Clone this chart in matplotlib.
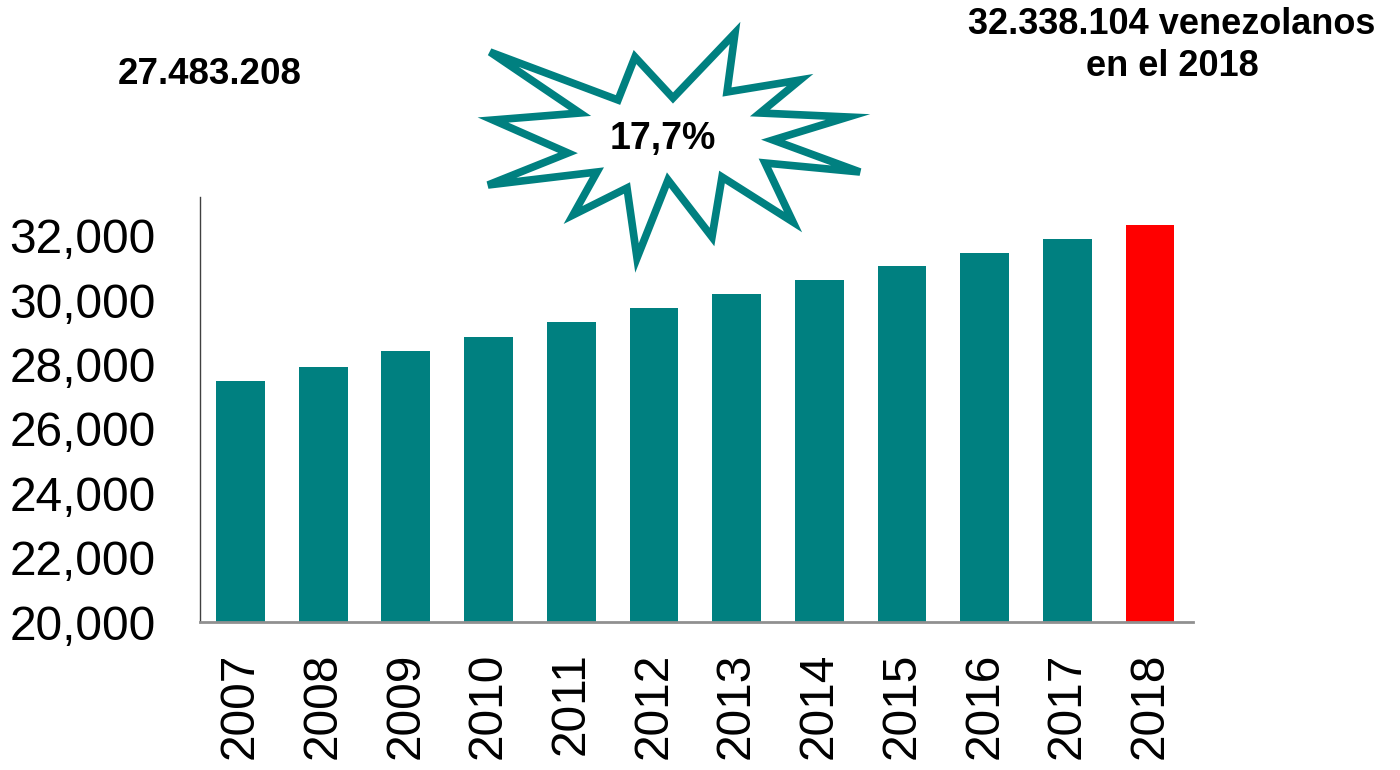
import matplotlib.pyplot as plt
from matplotlib.patches import Polygon
from matplotlib.ticker import FuncFormatter

plt.rcParams['font.family'] = ['Liberation Sans', 'DejaVu Sans']

years = ['2007', '2008', '2009', '2010', '2011', '2012',
         '2013', '2014', '2015', '2016', '2017', '2018']
poblacion = [27483, 27919, 28416, 28851, 29317, 29752,
             30186, 30621, 31056, 31460, 31894, 32338]
colores = ['#008080'] * 11 + ['#ff0000']

# contorno de la estrella (pixeles de la figura, y desde arriba)
estrella = [(490, 52), (618, 100), (635, 57), (673, 98), (735, 33), (727, 92),
            (800, 80), (760, 113), (848, 117), (773, 140), (860, 172), (765, 163),
            (793, 222), (722, 177), (712, 237), (668, 180), (637, 258), (627, 188),
            (573, 215), (597, 172), (488, 185), (568, 153), (493, 120), (580, 113)]

W, H = 1400, 770
fig = plt.figure(figsize=(14, 7.7), dpi=100)
ax = fig.add_axes([200 / W, 1 - 622 / H, 993 / W, 425 / H])

x = range(len(years))
ax.bar(x, poblacion, width=0.59, color=colores)
ax.set_xlim(-0.49, 11.52)
ax.set_ylim(20000, 33200)
ax.set_yticks(range(20000, 32001, 2000))
ax.yaxis.set_major_formatter(FuncFormatter(lambda v, p: '{:,.0f}'.format(v)))
ax.set_xticks(list(x))
ax.set_xticklabels(years, rotation=90)
ax.tick_params(axis='both', length=0, labelsize=34.5)
ax.tick_params(axis='x', pad=22)
ax.tick_params(axis='y', pad=32)

ax.spines['top'].set_visible(False)
ax.spines['right'].set_visible(False)
ax.spines['left'].set_color('#404040')
ax.spines['left'].set_linewidth(1)
ax.spines['bottom'].set_color('#909090')
ax.spines['bottom'].set_linewidth(2)

pts = [(px / W, 1 - py / H) for px, py in estrella]
fig.patches.append(Polygon(pts, closed=True, transform=fig.transFigure,
                           facecolor='white', edgecolor='#008080', linewidth=5.5,
                           joinstyle='miter'))

fig.text(210 / W, 1 - 75 / H, '27.483.208', ha='center', va='center',
         fontsize=26.5, fontweight='bold')
fig.text(1172 / W, 1 - 25 / H, '32.338.104 venezolanos', ha='center',
         va='center', fontsize=26, fontweight='bold')
fig.text(1172 / W, 1 - 66 / H, 'en el 2018', ha='center',
         va='center', fontsize=26, fontweight='bold')
fig.text(663 / W, 1 - 139 / H, '17,7%', ha='center', va='center',
         fontsize=27, fontweight='bold')

fig.savefig('out.png', dpi=100)
